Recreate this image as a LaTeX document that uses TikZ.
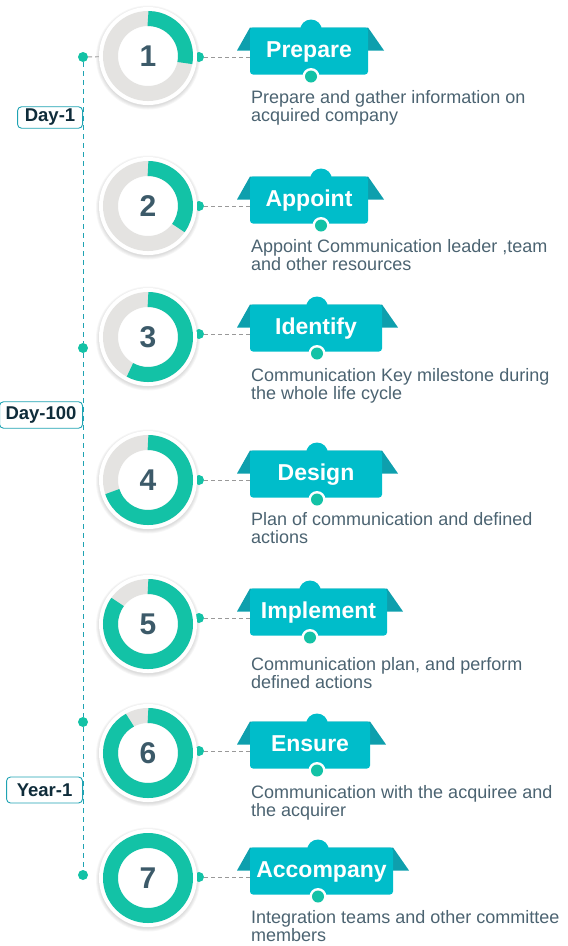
\documentclass[tikz,border=0pt]{standalone}
\usepackage{fontspec}
\setmainfont{Liberation Sans}

\tikzset{
  gdot/.style={circle, fill=ringgreen, minimum size=10pt, inner sep=0},
  disc/.style={circle, fill=white, minimum size=98pt, inner sep=0},
  conn/.style={gray!80, line width=0.9pt, dash pattern=on 4pt off 3pt},
  timeline/.style={linecol, line width=1pt, dash pattern=on 5pt off 4pt},
}
\definecolor{ringgreen}{HTML}{13C2A6}
\definecolor{ringgrey}{HTML}{E4E3E1}
\definecolor{bancol}{HTML}{00BDCA}
\definecolor{wingcol}{HTML}{0E9FAD}
\definecolor{numcol}{HTML}{3C5A69}
\definecolor{desccol}{HTML}{4B6371}
\definecolor{labcol}{HTML}{0F2C3A}
\definecolor{linecol}{HTML}{1FA3B3}

\begin{document}
\begin{tikzpicture}[x=1pt, y=-1pt,
      banner/.style={rectangle, rounded corners=3pt, fill=bancol, text=white,
                     minimum height=47pt, inner sep=0, text height=16.5pt, text depth=4.5pt,
                     font=\bfseries\fontsize{23}{23}\selectfont},
      daybox/.style={draw=linecol, line width=0.9pt, rounded corners=4pt, fill=white,
                     text=labcol, inner sep=0, anchor=east,
                     font=\bfseries\fontsize{18.5}{18.5}\selectfont},
      desc/.style={align=left, inner sep=0, anchor=north west, text=desccol,
                   font=\fontsize{18}{18}\selectfont},
    ]
    \useasboundingbox (0,0) rectangle (568,946);

    % ======== TIMELINE (left) ========
    \node[gdot] (ld1) at (83,57) {};
    \node[gdot] (ld2) at (83,348) {};
    \node[gdot] (ld3) at (83,722) {};
    \node[gdot] (ld4) at (83,875) {};
    \draw[timeline] (ld1) -- (ld2);
    \draw[timeline] (ld2) -- (ld3);
    \draw[timeline] (ld3) -- (ld4);

    \node[daybox, minimum width=65pt, minimum height=21.5pt] (lab1) at (83,117.5) {Day-1};
    \node[daybox, minimum width=83pt, minimum height=26.5pt] (lab2) at (83,415) {Day-100};
    \node[daybox, minimum width=76pt, minimum height=26pt] (lab3) at (83,790) {Year-1};

    % ======== STEPS ========
    % i / circle y / link y / percent / banner right / bump x / text y / title / text
    \foreach \i/\cy/\ly/\pct/\rx/\bx/\dy/\title/\desc in {
        1/56/57/28/368/311/98/Prepare/Prepare and gather information on\\acquired company,
        {2/206/206/35/368/321/247/Appoint/Appoint Communication leader ,team\\and other resources},
        3/337/334/58/382/317/376/Identify/Communication Key milestone during\\the whole life cycle,
        4/480/480/70/382/317/520/Design/Plan of communication and defined\\actions,
        {5/624/618/85/387/310/665/Implement/Communication plan, and perform\\defined actions},
        6/753/751/92/370/317/793/Ensure/Communication with the acquiree and\\the acquirer,
        7/878/877/100/393/318/918/Accompany/Integration teams and other committee\\members} {
      \pgfmathsetmacro{\ang}{3.6*\pct}

      % soft shadow + green dot behind the disc
      \foreach \s in {1,...,4}
        \fill[black, opacity=0.035] (148,\cy+1.5) circle (48pt+\s pt);
      \node[gdot] (rd\i) at (199,\ly) {};
      \node[disc] (c\i) at (148,\cy) {};

      % progress ring
      \ifnum\pct<100
        \draw[ringgrey, line width=15pt] (c\i.center) circle (37.5pt);
        \draw[ringgreen, line width=15pt] (c\i.center) ++(90:37.5pt)
          arc[start angle=90, delta angle=-\ang, radius=37.5pt];
      \else
        \draw[ringgreen, line width=15pt] (c\i.center) circle (37.5pt);
      \fi
      \node[text=numcol, font=\bfseries\fontsize{30}{30}\selectfont] (n\i) at (c\i.center) {\i};

      % banner
      \pgfmathsetmacro{\bt}{\ly-29.5}
      \pgfmathsetmacro{\bb}{\ly+17.5}
      \pgfmathsetmacro{\bw}{\rx-250}
      \pgfmathsetmacro{\bcx}{(\rx+250)/2}
      \pgfmathsetmacro{\wy}{\bt+23}
      \pgfmathsetmacro{\wr}{\rx+16}
      \fill[wingcol] (250,\bt) -- (237,\wy) -- (\wr,\wy) -- (\rx,\bt) -- cycle;
      \fill[bancol] (\bx,\bt+3) circle (11pt);
      \node[banner, minimum width=\bw pt] (ban\i) at (\bcx,\ly-6) {\title};
      \fill[white] (\bx,\bb+2) circle (8.5pt);
      \node[gdot, minimum size=12pt] (bd\i) at (\bx,\bb+2) {};

      \draw[conn] (rd\i) -- (rd\i -| ban\i.west);

      \node[desc] (d\i) at (251,\dy-8) {\desc};
    }

    \draw[conn] (ld1) -- (c1);

  \end{tikzpicture}
\end{document}
